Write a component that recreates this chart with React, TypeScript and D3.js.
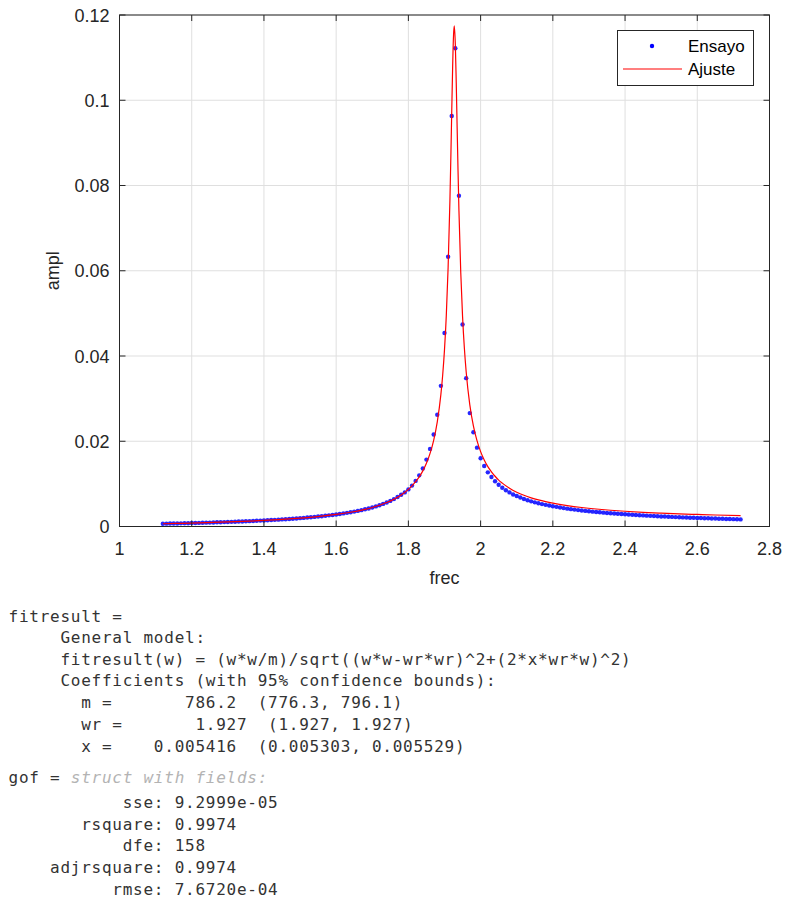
import React from "react";
import * as d3 from "d3";

// measured frequencies (Ensayo)
const freq = [
  1.12, 1.13, 1.14, 1.15, 1.16, 1.17, 1.18, 1.19, 1.2, 1.21,
  1.22, 1.23, 1.24, 1.25, 1.26, 1.27, 1.28, 1.29, 1.3, 1.31,
  1.32, 1.33, 1.34, 1.35, 1.36, 1.37, 1.38, 1.39, 1.4, 1.41,
  1.42, 1.43, 1.44, 1.45, 1.46, 1.47, 1.48, 1.49, 1.5, 1.51,
  1.52, 1.53, 1.54, 1.55, 1.56, 1.57, 1.58, 1.59, 1.6, 1.61,
  1.62, 1.63, 1.64, 1.65, 1.66, 1.67, 1.68, 1.69, 1.7, 1.71,
  1.72, 1.73, 1.74, 1.75, 1.76, 1.77, 1.78, 1.79, 1.8, 1.81,
  1.82, 1.83, 1.84, 1.85, 1.86, 1.87, 1.88, 1.89, 1.9, 1.91,
  1.92, 1.93, 1.94, 1.95, 1.96, 1.97, 1.98, 1.99, 2.0, 2.01,
  2.02, 2.03, 2.04, 2.05, 2.06, 2.07, 2.08, 2.09, 2.1, 2.11,
  2.12, 2.13, 2.14, 2.15, 2.16, 2.17, 2.18, 2.19, 2.2, 2.21,
  2.22, 2.23, 2.24, 2.25, 2.26, 2.27, 2.28, 2.29, 2.3, 2.31,
  2.32, 2.33, 2.34, 2.35, 2.36, 2.37, 2.38, 2.39, 2.4, 2.41,
  2.42, 2.43, 2.44, 2.45, 2.46, 2.47, 2.48, 2.49, 2.5, 2.51,
  2.52, 2.53, 2.54, 2.55, 2.56, 2.57, 2.58, 2.59, 2.6, 2.61,
  2.62, 2.63, 2.64, 2.65, 2.66, 2.67, 2.68, 2.69, 2.7, 2.71,
  2.72,
];

const ampl = [
  0.00065, 0.00067, 0.00069, 0.0007, 0.00072, 0.00074, 0.00076, 0.00078, 0.00081, 0.00083,
  0.00085, 0.00088, 0.0009, 0.00092, 0.00095, 0.00098, 0.001, 0.00103, 0.00106, 0.00109,
  0.00112, 0.00116, 0.00119, 0.00123, 0.00126, 0.0013, 0.00134, 0.00138, 0.00142, 0.00147,
  0.00151, 0.00156, 0.00161, 0.00166, 0.00171, 0.00177, 0.00183, 0.00189, 0.00196, 0.00202,
  0.0021, 0.00217, 0.00225, 0.00233, 0.00242, 0.00251, 0.00261, 0.00271, 0.00282, 0.00294,
  0.00307, 0.0032, 0.00334, 0.0035, 0.00366, 0.00384, 0.00403, 0.00424, 0.00447, 0.00471,
  0.00499, 0.0053, 0.00563, 0.00601, 0.00643, 0.00691, 0.00745, 0.008, 0.0087, 0.0096,
  0.0107, 0.012, 0.0136, 0.0157, 0.0182, 0.0216, 0.0262, 0.033, 0.0454, 0.0633,
  0.0963, 0.1122, 0.0776, 0.0474, 0.0348, 0.0266, 0.0221, 0.0185, 0.016, 0.0142,
  0.0127, 0.0116, 0.0106, 0.0098, 0.0091, 0.0085, 0.008, 0.0075, 0.00715, 0.00679,
  0.00646, 0.00617, 0.0059, 0.00567, 0.00545, 0.00526, 0.00508, 0.00491, 0.00476, 0.00461,
  0.00446, 0.00432, 0.00419, 0.00407, 0.00396, 0.00385, 0.00375, 0.00366, 0.00357, 0.00348,
  0.0034, 0.00333, 0.00325, 0.00318, 0.00312, 0.00304, 0.00298, 0.00293, 0.00286, 0.00281,
  0.00275, 0.0027, 0.00264, 0.0026, 0.00254, 0.0025, 0.00245, 0.00241, 0.00236, 0.00233,
  0.00228, 0.00225, 0.00221, 0.00218, 0.00214, 0.00211, 0.00207, 0.00204, 0.002, 0.00198,
  0.00194, 0.00192, 0.00188, 0.00186, 0.00183, 0.00181, 0.00177, 0.00175, 0.00172, 0.0017,
  0.00167,
];

// fitted curve (Ajuste), sampled more densely near the resonance
const fitFreq = [
  1.12, 1.16, 1.2, 1.24, 1.28, 1.32, 1.36, 1.4, 1.44, 1.48, 1.52, 1.56, 1.6, 1.64, 1.68,
  1.7, 1.72, 1.74, 1.76, 1.78, 1.8, 1.81, 1.82, 1.83, 1.84, 1.85, 1.86, 1.87, 1.88, 1.89,
  1.895, 1.9, 1.905, 1.91, 1.915, 1.9175, 1.92, 1.9225, 1.925, 1.927, 1.93, 1.9325, 1.935,
  1.9375, 1.94, 1.945, 1.95, 1.955, 1.96, 1.97, 1.98, 1.99, 2.0, 2.01, 2.02, 2.03, 2.04,
  2.05, 2.06, 2.08, 2.1, 2.12, 2.14, 2.16, 2.18, 2.2, 2.24, 2.28, 2.32, 2.36, 2.4, 2.45,
  2.5, 2.55, 2.6, 2.65, 2.72,
];
const fitAmpl = [
  0.000649, 0.000723, 0.000806, 0.000899, 0.001004, 0.001124, 0.001262, 0.001422, 0.001609,
  0.001829, 0.002095, 0.002419, 0.002823, 0.003342, 0.00403, 0.004465, 0.004985, 0.005616,
  0.006399, 0.007396, 0.008707, 0.009532, 0.010509, 0.011625, 0.01305, 0.01484, 0.01714,
  0.02023, 0.02455, 0.031, 0.03554, 0.0415, 0.04953, 0.0607, 0.07647, 0.08635, 0.0971,
  0.10759, 0.1152, 0.11743, 0.113, 0.10418, 0.09362, 0.08332, 0.0741, 0.05964, 0.0493,
  0.04186, 0.0363, 0.0286, 0.02361, 0.02013, 0.01756, 0.0156, 0.01405, 0.01284, 0.01179,
  0.01089, 0.01018, 0.008976, 0.008052, 0.007319, 0.006724, 0.006232, 0.005818, 0.005464,
  0.004893, 0.004452, 0.004102, 0.003816, 0.00358, 0.003335, 0.003134, 0.002965, 0.002822,
  0.002699, 0.002554,
];

const xTicks = [1, 1.2, 1.4, 1.6, 1.8, 2, 2.2, 2.4, 2.6, 2.8];
const xTickLabels = ["1", "1.2", "1.4", "1.6", "1.8", "2", "2.2", "2.4", "2.6", "2.8"];
const yTicks = [0, 0.02, 0.04, 0.06, 0.08, 0.1, 0.12];
const yTickLabels = ["0", "0.02", "0.04", "0.06", "0.08", "0.1", "0.12"];

const legendLabels = ["Ensayo", "Ajuste"];

const consoleLines = [
  "fitresult =",
  "     General model:",
  "     fitresult(w) = (w*w/m)/sqrt((w*w-wr*wr)^2+(2*x*wr*w)^2)",
  "     Coefficients (with 95% confidence bounds):",
  "       m =       786.2  (776.3, 796.1)",
  "       wr =       1.927  (1.927, 1.927)",
  "       x =    0.005416  (0.005303, 0.005529)",
];
const gofLines = [
  "           sse: 9.2999e-05",
  "       rsquare: 0.9974",
  "           dfe: 158",
  "    adjrsquare: 0.9974",
  "          rmse: 7.6720e-04",
];

const W = 787;
const H = 902;
const left = 119.5, right = 769.5, top = 15, bottom = 526.5;
const axisColor = "#262626";
const gridColor = "#dfdfdf";
const sans = "'Liberation Sans', Arial, Helvetica, sans-serif";
const mono = "'DejaVu Sans Mono', 'Liberation Mono', monospace";

export default function App() {
  const x = d3.scaleLinear().domain([1, 2.8]).range([left, right]);
  const y = d3.scaleLinear().domain([0, 0.12]).range([bottom, top]);

  const fitPts: [number, number][] = fitFreq.map((f, i) => [f, fitAmpl[i]]);
  const line = d3
    .line<[number, number]>()
    .x((d) => x(d[0]))
    .y((d) => y(d[1]))
    .curve(d3.curveMonotoneX);

  const tickLen = 6;
  const monoStyle = { fontFamily: mono, fontSize: 16, letterSpacing: "0.75px", whiteSpace: "pre" as const };

  return (
    <svg width={W} height={H} style={{ position: "absolute", left: 0, top: 0, background: "#fff" }}>
      <rect x={0} y={0} width={W} height={H} fill="#fff" />

      {/* grid */}
      {xTicks.map((t) => (
        <line key={"gx" + t} x1={x(t)} x2={x(t)} y1={top} y2={bottom} stroke={gridColor} strokeWidth={1} />
      ))}
      {yTicks.map((t) => (
        <line key={"gy" + t} x1={left} x2={right} y1={y(t)} y2={y(t)} stroke={gridColor} strokeWidth={1} />
      ))}

      {/* data points */}
      {freq.map((f, i) => (
        <circle key={"p" + i} cx={x(f)} cy={y(ampl[i])} r={2.2} fill="#0000ff" fillOpacity={0.85} />
      ))}

      {/* fit */}
      <path d={line(fitPts) || ""} fill="none" stroke="#ff0000" strokeWidth={1.2} />

      {/* box + ticks */}
      <rect x={left} y={top} width={right - left} height={bottom - top} fill="none" stroke={axisColor} strokeWidth={1} />
      {xTicks.map((t) => (
        <g key={"tx" + t}>
          <line x1={x(t)} x2={x(t)} y1={bottom} y2={bottom - tickLen} stroke={axisColor} />
          <line x1={x(t)} x2={x(t)} y1={top} y2={top + tickLen} stroke={axisColor} />
        </g>
      ))}
      {yTicks.map((t) => (
        <g key={"ty" + t}>
          <line x1={left} x2={left + tickLen} y1={y(t)} y2={y(t)} stroke={axisColor} />
          <line x1={right} x2={right - tickLen} y1={y(t)} y2={y(t)} stroke={axisColor} />
        </g>
      ))}

      {/* tick labels */}
      {xTicks.map((t, i) => (
        <text key={"lx" + t} x={x(t)} y={bottom + 28} textAnchor="middle" fontFamily={sans} fontSize={18} fill={axisColor}>
          {xTickLabels[i]}
        </text>
      ))}
      {yTicks.map((t, i) => (
        <text key={"ly" + t} x={left - 10} y={y(t) + 6.5} textAnchor="end" fontFamily={sans} fontSize={18} fill={axisColor}>
          {yTickLabels[i]}
        </text>
      ))}

      {/* axis labels */}
      <text x={(left + right) / 2} y={584} textAnchor="middle" fontFamily={sans} fontSize={18} fill={axisColor}>
        frec
      </text>
      <text
        transform={`translate(59, ${(top + bottom) / 2}) rotate(-90)`}
        textAnchor="middle"
        fontFamily={sans}
        fontSize={18}
        fill={axisColor}
      >
        ampl
      </text>

      {/* legend */}
      <g>
        <rect x={617.5} y={30.5} width={136} height={55} fill="#fff" stroke={axisColor} strokeWidth={1} />
        <circle cx={652} cy={46} r={2.2} fill="#0000ff" />
        <line x1={623} x2={682} y1={69} y2={69} stroke="#ff0000" strokeWidth={1.2} />
        <text x={688} y={52} fontFamily={sans} fontSize={17} fill="#000">
          {legendLabels[0]}
        </text>
        <text x={688} y={75} fontFamily={sans} fontSize={17} fill="#000">
          {legendLabels[1]}
        </text>
      </g>

      {/* console output */}
      <g fill="#333">
        {consoleLines.map((s, i) => (
          <text key={"c" + i} x={8.5} y={(i === 0 ? 622 : 643 + (i - 1) * 21.7)} xmlSpace="preserve" style={monoStyle}>
            {s}
          </text>
        ))}
        <text x={8.5} y={783} xmlSpace="preserve" style={monoStyle}>
          {"gof = "}
          <tspan fill="#b3b3b3" fontStyle="italic">struct with fields:</tspan>
        </text>
        {gofLines.map((s, i) => (
          <text key={"g" + i} x={8.5} y={808 + i * 21.7} xmlSpace="preserve" style={monoStyle}>
            {s}
          </text>
        ))}
      </g>
    </svg>
  );
}
